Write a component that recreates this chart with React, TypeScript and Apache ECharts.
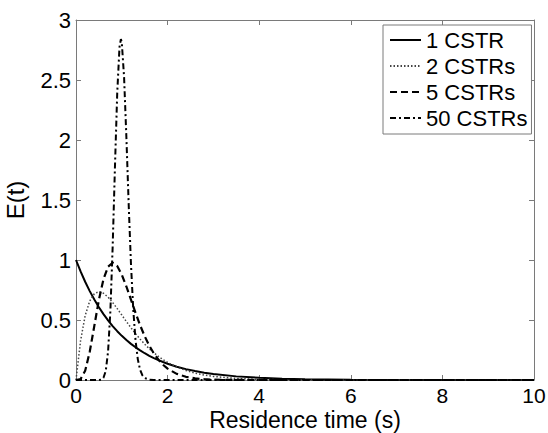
import React, { useEffect, useRef } from "react";
import * as echarts from "echarts";

// Residence time (s)
const tMain = [0, 0.1, 0.2, 0.3, 0.4, 0.5, 0.6, 0.7, 0.8, 0.9, 1.0, 1.1, 1.2, 1.3, 1.4, 1.5, 1.6, 1.7, 1.8, 1.9, 2.0,
  2.2, 2.4, 2.6, 2.8, 3.0, 3.5, 4, 4.5, 5, 6, 7, 8, 9, 10];
const cstr1 = [1, 0.9048, 0.8187, 0.7408, 0.6703, 0.6065, 0.5488, 0.4966, 0.4493, 0.4066, 0.3679, 0.3329, 0.3012, 0.2725, 0.2466, 0.2231, 0.2019, 0.1827, 0.1653, 0.1496, 0.1353,
  0.1108, 0.0907, 0.0743, 0.0608, 0.0498, 0.0302, 0.0183, 0.0111, 0.0067, 0.0025, 0.0009, 0.0003, 0.0001, 0.00005];
const cstr2 = [0, 0.3275, 0.5362, 0.6586, 0.7189, 0.7358, 0.7229, 0.6905, 0.6461, 0.5951, 0.5413, 0.4875, 0.4354, 0.3863, 0.3405, 0.2987, 0.2608, 0.2269, 0.1967, 0.17, 0.1465,
  0.1081, 0.079, 0.0574, 0.0414, 0.0297, 0.0128, 0.0054, 0.0022, 0.0009, 0.0001, 0, 0, 0, 0];
const cstr5 = [0, 0.0079, 0.0767, 0.2353, 0.4511, 0.668, 0.8402, 0.9441, 0.977, 0.9491, 0.8773, 0.7791, 0.6693, 0.559, 0.4561, 0.3645, 0.2863, 0.2213, 0.1687, 0.1271, 0.0946,
  0.0509, 0.0265, 0.0134, 0.0067, 0.0032, 0.0005, 0.0001, 0, 0, 0, 0, 0, 0, 0];
const t50 = [0, 0.4, 0.45, 0.5, 0.55, 0.6, 0.65, 0.7, 0.75, 0.8, 0.85, 0.9, 0.95, 0.98, 1.0, 1.05, 1.1, 1.15, 1.2, 1.25,
  1.3, 1.35, 1.4, 1.45, 1.5, 1.6, 1.7, 1.8, 2, 4, 6, 8, 10];
const cstr50 = [0, 0, 0.00003, 0.0004, 0.0032, 0.0184, 0.0762, 0.2363, 0.57, 1.1054, 1.7698, 2.3904, 2.7755, 2.841, 2.8129, 2.5216, 2.0226, 1.466, 0.9684, 0.5876,
  0.3296, 0.1719, 0.0838, 0.0384, 0.0166, 0.0026, 0.0004, 0, 0, 0, 0, 0, 0];

const seriesNames = ["1 CSTR", "2 CSTRs", "5 CSTRs", "50 CSTRs"];
const xTicks = { min: 0, max: 10, interval: 2 };
const yTicks = { min: 0, max: 3, interval: 0.5 };

const FONT = "Arial, 'Liberation Sans', sans-serif";

const pairs = (xs: number[], ys: number[]) => xs.map((x, i) => [x, ys[i]]);

export default function App() {
  const ref = useRef<HTMLDivElement>(null);
  useEffect(() => {
    if (!ref.current) return;
    const chart = echarts.init(ref.current, undefined, { renderer: "svg" });
    const boxColor = "#7a7a7a";
    const label = { color: "#000", fontSize: 22, fontFamily: FONT };
    const baseX = {
      type: "value" as const,
      min: xTicks.min,
      max: xTicks.max,
      interval: xTicks.interval,
      splitLine: { show: false },
      axisLine: { show: true, onZero: false, lineStyle: { color: boxColor, width: 1 } },
      axisTick: { show: true, inside: true, length: 5, lineStyle: { color: boxColor } },
    };
    const baseY = {
      type: "value" as const,
      min: yTicks.min,
      max: yTicks.max,
      interval: yTicks.interval,
      splitLine: { show: false },
      axisLine: { show: true, onZero: false, lineStyle: { color: boxColor, width: 1 } },
      axisTick: { show: true, inside: true, length: 5, lineStyle: { color: boxColor } },
    };
    chart.setOption({
      animation: false,
      backgroundColor: "#fff",
      grid: { left: 76, top: 20, right: 14, bottom: 53, outerBoundsMode: "none", containLabel: false },
      xAxis: [
        {
          ...baseX,
          position: "bottom",
          axisLabel: { ...label, fontSize: 21, margin: 7, lineHeight: 16 },
          name: "Residence time (s)",
          nameLocation: "middle",
          nameGap: 29,
          nameMoveOverlap: false,
          nameTextStyle: { color: "#000", fontSize: 23, fontFamily: FONT, lineHeight: 22 },
        },
        { ...baseX, position: "top", axisLabel: { show: false } },
      ],
      yAxis: [
        {
          ...baseY,
          position: "left",
          axisLabel: { ...label, margin: 5 },
          name: "E(t)",
          nameLocation: "middle",
          nameGap: 49,
          nameRotate: 90,
          nameMoveOverlap: false,
          nameTextStyle: { color: "#000", fontSize: 24, fontFamily: FONT },
        },
        { ...baseY, position: "right", axisLabel: { show: false } },
      ],
      legend: {
        orient: "vertical",
        left: 383,
        top: 25,
        padding: [4, 4, 5, 6],
        itemGap: 4,
        itemWidth: 31,
        itemHeight: 20,
        borderColor: boxColor,
        borderWidth: 1,
        backgroundColor: "#fff",
        itemStyle: { opacity: 0 },
        textStyle: { color: "#000", fontSize: 22, fontFamily: FONT, lineHeight: 22 },
        data: seriesNames,
      },
      series: [
        {
          name: seriesNames[0],
          type: "line",
          symbol: "none",
          data: pairs(tMain, cstr1),
          lineStyle: { color: "#000", width: 2, type: "solid" },
          itemStyle: { color: "#000" },
        },
        {
          name: seriesNames[1],
          type: "line",
          symbol: "none",
          data: pairs(tMain, cstr2),
          lineStyle: { color: "#444", width: 1.5, type: [1.5, 2] },
          itemStyle: { color: "#444" },
        },
        {
          name: seriesNames[2],
          type: "line",
          symbol: "none",
          data: pairs(tMain, cstr5),
          lineStyle: { color: "#000", width: 2.2, type: [7, 4] },
          itemStyle: { color: "#000" },
        },
        {
          name: seriesNames[3],
          type: "line",
          symbol: "none",
          data: pairs(t50, cstr50),
          lineStyle: { color: "#000", width: 2, type: [6, 3, 2, 3] },
          itemStyle: { color: "#000" },
        },
      ],
    });
    return () => chart.dispose();
  }, []);
  return <div ref={ref} style={{ width: 548, height: 433, position: "absolute", left: 0, top: 0 }} />;
}
